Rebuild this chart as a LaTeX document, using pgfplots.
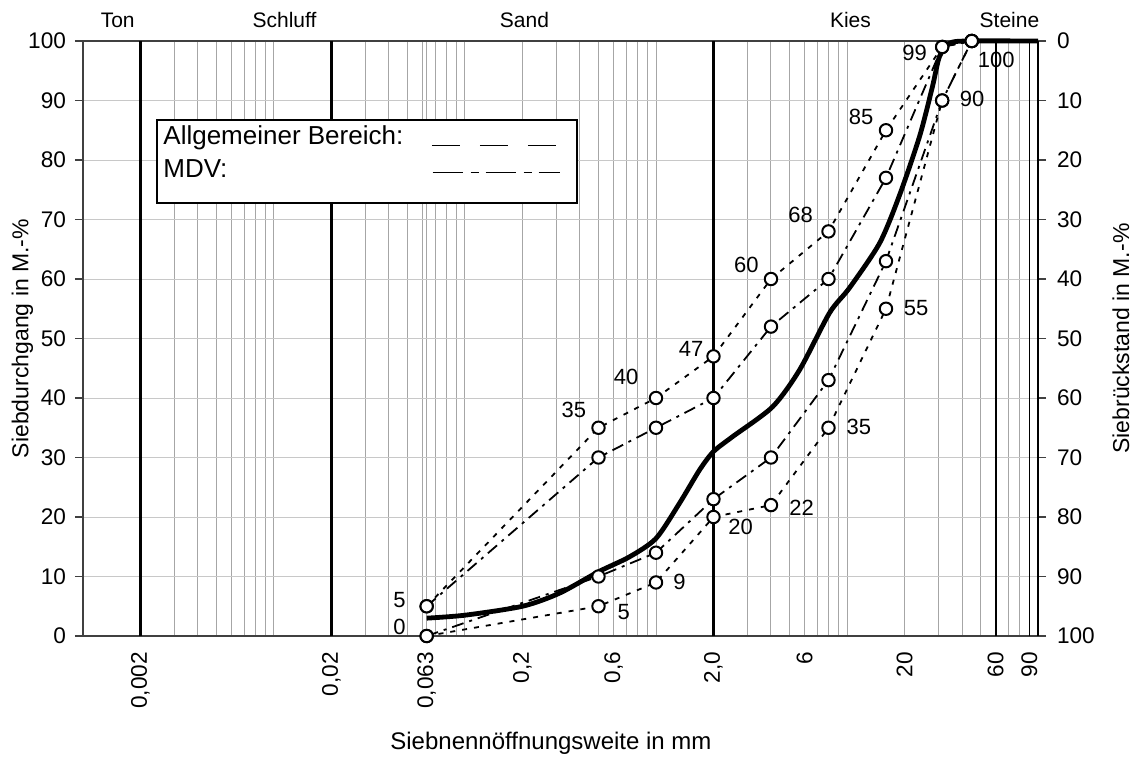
\documentclass[border=0pt]{standalone}
\usepackage{fontspec}
\setmainfont{Liberation Sans}
\usepackage{pgfplots}
\pgfplotsset{compat=1.18}
\usetikzlibrary{calc}

\definecolor{vgrid}{HTML}{A6A6A6}
\definecolor{hgrid}{HTML}{C8C8C8}

\pgfplotsset{
  bound/.style={black, line width=0.9pt, mark=*, mark size=3.1pt,
    mark options={solid, fill=white, draw=black, line width=1pt}},
}

\begin{document}
\begin{tikzpicture}
\begin{axis}[
  name=main,
  scale only axis,
  width=477.5pt, height=297.5pt,
  xmode=log, xmin=0.001, xmax=100,
  ymin=0, ymax=100,
  clip=false,
  axis line style={black!75, line width=0.6pt},
  xtick={0.002,0.02,0.063,0.2,0.6,2,6,20,60,90},
  xticklabels={0{,}002,0{,}02,0{,}063,0{,}2,0{,}6,2{,}0,6,20,60,90},
  xticklabel style={rotate=90, anchor=east, font=\fontsize{11.3}{13}\selectfont},
  xticklabel shift=0.5pt,
  x tick style={draw=none},
  minor xtick={0.003,0.004,0.005,0.006,0.007,0.008,0.009,0.01,
               0.03,0.04,0.05,0.06,0.063,0.07,0.08,0.09,0.1,
               0.2,0.3,0.4,0.5,0.6,0.7,0.8,0.9,1,
               3,4,5,6,7,8,9,10,20,30,40,50,70,80},
  xminorgrids=true,
  minor grid style={vgrid, line width=0.5pt},
  ytick={0,10,...,100},
  ymajorgrids=true,
  major grid style={hgrid, line width=0.5pt},
  y tick style={black!75, line width=0.6pt},
  tick align=outside,
  major tick length=4pt,
  yticklabel style={font=\fontsize{11.3}{13}\selectfont},
  yticklabel shift=1pt,
  /pgf/number format/assume math mode=true,
  ytick pos=left,
]
% zone boundaries
\draw[black, line width=1.1pt] (axis cs:0.002,0) -- (axis cs:0.002,100);
\draw[black, line width=1.1pt] (axis cs:0.02,0) -- (axis cs:0.02,100);
\draw[black, line width=1.1pt] (axis cs:2,0) -- (axis cs:2,100);
\draw[black, line width=1.1pt] (axis cs:60,0) -- (axis cs:60,100);
\draw[black, line width=0.6pt] (axis cs:90,0) -- (axis cs:90,100);

% Sieblinie (thick curve)
\addplot[black, line width=2.4pt, smooth, tension=0.45] coordinates {
(0.063,3.0) (0.1,3.5) (0.2,5.0) (0.3125,7.2) (0.5,10.8) (0.726,13.3)
(1.0,16.4) (1.327,22.3) (1.69,27.9) (2.0,31.0) (2.516,33.5) (4.07,38.5)
(5.64,44.7) (8.1,54.3) (10.3,58.5) (14.8,66) (18.8,74) (24.0,84)
(28.0,92.3) (30.5,97.4) (34.4,99.6) (42.3,100) (100,100)
};

% MDV upper / lower (dash-dot)
\addplot[bound, dash pattern=on 6pt off 3pt on 1.5pt off 3pt] coordinates {
(0.063,5) (0.5,30) (1,35) (2,40) (4,52) (8,60) (16,77) (31.5,99) (45,100)
};
\addplot[bound, dash pattern=on 6pt off 3pt on 1.5pt off 3pt] coordinates {
(0.063,0) (0.5,10) (1,14) (2,23) (4,30) (8,43) (16,63) (31.5,90) (45,100)
};
% Allgemeiner Bereich upper / lower (dotted)
\addplot[bound, dash pattern=on 2.5pt off 3.5pt] coordinates {
(0.063,5) (0.5,35) (1,40) (2,47) (4,60) (8,68) (16,85) (31.5,99) (45,100)
};
\addplot[bound, dash pattern=on 2.5pt off 3.5pt] coordinates {
(0.063,0) (0.5,5) (1,9) (2,20) (4,22) (8,35) (16,55) (31.5,90) (45,100)
};

% value labels
\begin{scope}[every node/.style={font=\fontsize{11}{13}\selectfont, inner sep=0pt}]
\node at (axis cs:0.0454,6.05) {5};
\node at (axis cs:0.0454,1.5) {0};
\node at (axis cs:0.372,38.0) {35};
\node at (axis cs:0.698,43.6) {40};
\node at (axis cs:1.528,48.2) {47};
\node at (axis cs:2.97,62.35) {60};
\node at (axis cs:5.71,70.75) {68};
\node at (axis cs:11.86,87.2) {85};
\node at (axis cs:22.6,98.0) {99};
\node at (axis cs:0.678,4.08) {5};
\node at (axis cs:1.327,9.02) {9};
\node at (axis cs:2.77,18.4) {20};
\node at (axis cs:5.78,21.5) {22};
\node at (axis cs:11.53,35.1) {35};
\node at (axis cs:23.0,55.1) {55};
\node at (axis cs:45.2,90.2) {90};
\node at (axis cs:60.4,96.9) {100};
\end{scope}

% zone names
\begin{scope}[every node/.style={font=\fontsize{10.5}{12}\selectfont}]
\node at (axis cs:0.00152,103.5) {Ton};
\node at (axis cs:0.01135,103.5) {Schluff};
\node at (axis cs:0.2049,103.5) {Sand};
\node at (axis cs:10.43,103.5) {Kies};
\node at (axis cs:70.9,103.5) {Steine};
\end{scope}

% legend box
\draw[black, line width=0.9pt, fill=white] (rel axis cs:0.0775,0.867) rectangle (rel axis cs:0.517,0.728);
\node[anchor=west, inner sep=0pt, font=\fontsize{13}{15}\selectfont] at (rel axis cs:0.0838,0.837) {Allgemeiner Bereich:};
\node[anchor=west, inner sep=0pt, font=\fontsize{13}{15}\selectfont] at (rel axis cs:0.0838,0.785) {MDV:};
\draw[black, line width=0.8pt, dash pattern=on 14pt off 10pt] (rel axis cs:0.3654,0.8246) -- (rel axis cs:0.5016,0.8246);
\draw[black, line width=0.8pt, dash pattern=on 15pt off 4pt on 4pt off 3.5pt] (rel axis cs:0.3662,0.7787) -- (rel axis cs:0.4995,0.7787);

% axis titles
\node[rotate=90, font=\fontsize{11.5}{13}\selectfont] at ([xshift=-30.3pt]rel axis cs:0,0.5) {Siebdurchgang in M.-\%};
\node[rotate=90, font=\fontsize{11.5}{13}\selectfont] at ([xshift=41.5pt]rel axis cs:1,0.5) {Siebrückstand in M.-\%};
\node[font=\fontsize{12}{14}\selectfont] at ([yshift=-53.5pt]rel axis cs:0.49,0) {Siebnennöffnungsweite in mm};
\end{axis}

\begin{axis}[
  scale only axis,
  width=477.5pt, height=297.5pt,
  xmode=log, xmin=0.001, xmax=100,
  ymin=0, ymax=100, y dir=reverse,
  hide x axis,
  axis y line*=right,
  axis line style={black, line width=1pt},
  ytick={0,10,...,100},
  y tick style={black!75, line width=0.6pt},
  tick align=outside,
  major tick length=4pt,
  yticklabel style={font=\fontsize{11.3}{13}\selectfont},
  yticklabel shift=2pt,
  /pgf/number format/assume math mode=true,
]
\end{axis}

\pgfresetboundingbox
\path[use as bounding box] ($(main.south west)+(-41.5pt,-65.5pt)$) rectangle ($(main.north east)+(49.5pt,20.5pt)$);
\end{tikzpicture}
\end{document}
